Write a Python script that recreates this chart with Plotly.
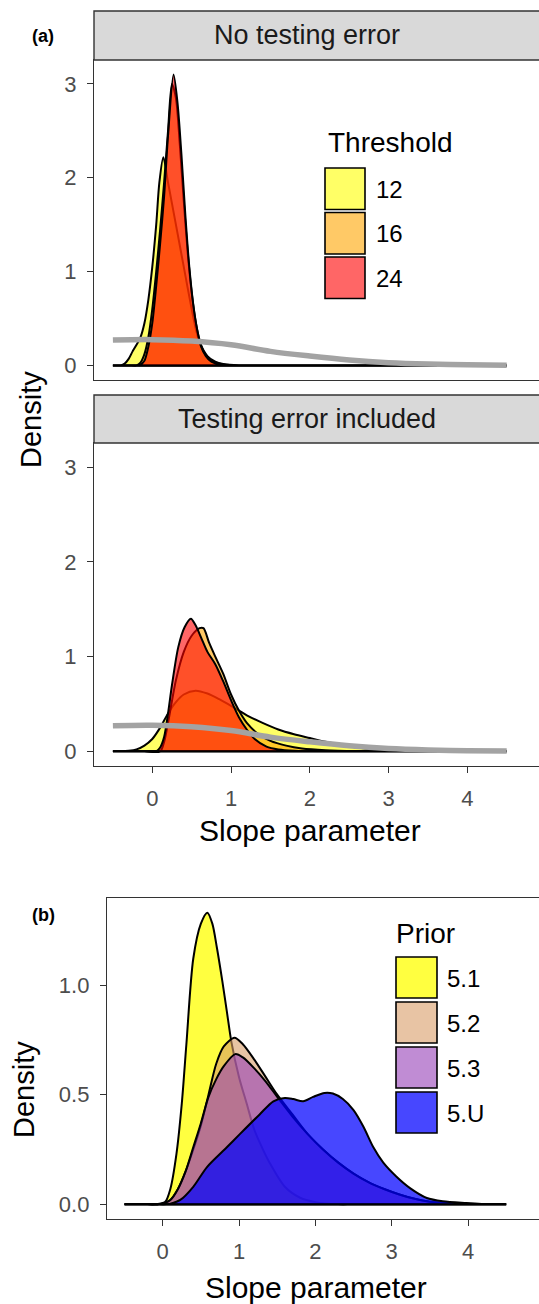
import plotly.graph_objects as go

# ---------------- data ----------------
# Panel (a) top: "No testing error"
a1_12_x = [-0.5, -0.45, -0.4, -0.35, -0.3, -0.25, -0.2, -0.15, -0.1, -0.05, 0.0, 0.05, 0.09, 0.14, 0.2, 0.3, 0.4, 0.5, 0.55, 0.6, 0.7, 0.8, 0.9, 1.1, 1.3, 4.5]
a1_12_y = [0, 0, 0, 0.02, 0.07, 0.15, 0.22, 0.3, 0.45, 0.7, 1.05, 1.5, 1.95, 2.22, 1.95, 1.5, 1.05, 0.6, 0.4, 0.25, 0.1, 0.04, 0.015, 0, 0, 0]

a1_16_x = [-0.5, -0.3, -0.2, -0.15, -0.1, -0.05, 0.0, 0.05, 0.1, 0.15, 0.2, 0.25, 0.3, 0.35, 0.4, 0.45, 0.5, 0.55, 0.6, 0.65, 0.72, 0.8, 0.95, 1.1, 1.3, 4.5]
a1_16_y = [0, 0, 0, 0.03, 0.12, 0.3, 0.6, 1.0, 1.45, 1.95, 2.5, 3.0, 2.85, 2.35, 1.75, 1.2, 0.78, 0.47, 0.27, 0.15, 0.07, 0.03, 0.008, 0, 0, 0]

a1_24_x = [-0.5, -0.3, -0.2, -0.15, -0.1, -0.05, 0.0, 0.05, 0.1, 0.15, 0.2, 0.27, 0.32, 0.37, 0.42, 0.47, 0.52, 0.57, 0.62, 0.68, 0.75, 0.85, 1.0, 1.2, 4.5]
a1_24_y = [0, 0, 0, 0.01, 0.05, 0.2, 0.45, 0.85, 1.3, 1.8, 2.45, 3.1, 2.8, 2.25, 1.6, 1.05, 0.65, 0.38, 0.2, 0.1, 0.04, 0.012, 0, 0, 0]

# Panel (a) bottom: "Testing error included"
a2_12_x = [-0.5, -0.4, -0.3, -0.2, -0.1, 0.0, 0.1, 0.2, 0.3, 0.4, 0.55, 0.7, 0.85, 1.0, 1.1, 1.2, 1.4, 1.6, 1.8, 2.0, 2.2, 2.4, 2.6, 2.8, 3.0, 3.3, 3.7, 3.9, 4.5]
a2_12_y = [0, 0, 0.005, 0.02, 0.06, 0.13, 0.25, 0.4, 0.52, 0.6, 0.64, 0.61, 0.55, 0.48, 0.43, 0.38, 0.3, 0.23, 0.18, 0.14, 0.1, 0.065, 0.04, 0.022, 0.012, 0.004, 0, 0, 0]

a2_16_x = [-0.5, -0.1, 0.1, 0.15, 0.2, 0.3, 0.4, 0.5, 0.6, 0.65, 0.72, 0.8, 0.9, 1.0, 1.1, 1.2, 1.35, 1.5, 1.7, 1.9, 2.2, 2.6, 3.0, 3.2, 4.5]
a2_16_y = [0, 0, 0, 0.1, 0.3, 0.75, 1.05, 1.22, 1.3, 1.3, 1.15, 1.0, 0.82, 0.6, 0.43, 0.3, 0.18, 0.11, 0.06, 0.03, 0.012, 0.003, 0, 0, 0]

a2_24_x = [-0.5, -0.1, 0.05, 0.1, 0.15, 0.2, 0.25, 0.33, 0.41, 0.49, 0.55, 0.62, 0.7, 0.8, 0.9, 1.0, 1.1, 1.2, 1.3, 1.45, 1.6, 1.8, 2.2, 2.4, 4.5]
a2_24_y = [0, 0, 0, 0.04, 0.15, 0.4, 0.7, 1.1, 1.31, 1.4, 1.33, 1.2, 1.05, 0.92, 0.74, 0.54, 0.36, 0.23, 0.13, 0.05, 0.02, 0.006, 0, 0, 0]

# Prior density (grey line), panel (a)
prior_x = [-0.5, 0.0, 0.5, 1.0, 1.5, 2.0, 2.5, 3.0, 3.5, 4.0, 4.5]
prior_y = [0.27, 0.275, 0.26, 0.22, 0.15, 0.1, 0.058, 0.03, 0.015, 0.007, 0.003]

# Panel (b): priors
b_51_x = [-0.5, -0.2, -0.1, 0.03, 0.1, 0.18, 0.25, 0.31, 0.4, 0.5, 0.585, 0.65, 0.71, 0.78, 0.84, 0.9, 1.0, 1.1, 1.2, 1.3, 1.4, 1.6, 1.8, 2.0, 2.3, 2.5, 4.5]
b_51_y = [0, 0, 0, 0.01, 0.07, 0.23, 0.46, 0.73, 1.12, 1.28, 1.33, 1.28, 1.17, 1.02, 0.88, 0.74, 0.58, 0.46, 0.34, 0.26, 0.19, 0.08, 0.03, 0.01, 0, 0, 0]

b_52_x = [-0.5, -0.2, -0.05, 0.1, 0.2, 0.3, 0.4, 0.5, 0.6, 0.7, 0.8, 0.94, 1.05, 1.2, 1.35, 1.5, 1.7, 1.9, 2.1, 2.3, 2.5, 2.7, 2.9, 3.1, 3.3, 3.5, 3.8, 4.2, 4.4, 4.5]
b_52_y = [0, 0, 0, 0.02, 0.07, 0.15, 0.25, 0.36, 0.5, 0.64, 0.72, 0.76, 0.73, 0.66, 0.58, 0.5, 0.41, 0.32, 0.25, 0.19, 0.14, 0.1, 0.07, 0.045, 0.025, 0.012, 0.004, 0, 0, 0]

b_53_x = [-0.5, -0.2, -0.05, 0.1, 0.2, 0.3, 0.4, 0.5, 0.6, 0.7, 0.8, 0.95, 1.05, 1.2, 1.35, 1.5, 1.7, 1.9, 2.1, 2.3, 2.5, 2.7, 2.9, 3.1, 3.3, 3.5, 3.8, 4.2, 4.4, 4.5]
b_53_y = [0, 0, 0, 0.02, 0.07, 0.15, 0.26, 0.37, 0.49, 0.57, 0.63, 0.685, 0.67, 0.62, 0.56, 0.49, 0.4, 0.32, 0.25, 0.19, 0.14, 0.1, 0.07, 0.045, 0.025, 0.012, 0.004, 0, 0, 0]

b_5U_x = [-0.5, -0.1, 0.05, 0.1, 0.23, 0.4, 0.58, 0.84, 1.01, 1.27, 1.45, 1.6, 1.71, 1.84, 1.97, 2.12, 2.23, 2.36, 2.5, 2.63, 2.76, 2.89, 3.06, 3.24, 3.46, 3.67, 3.98, 4.3, 4.45, 4.5]
b_5U_y = [0, 0, 0, 0.003, 0.02, 0.08, 0.17, 0.26, 0.32, 0.41, 0.47, 0.485, 0.48, 0.47, 0.49, 0.508, 0.505, 0.48, 0.43, 0.354, 0.26, 0.19, 0.127, 0.074, 0.029, 0.014, 0.006, 0, 0, 0]

threshold_labels = ["12", "16", "24"]
prior_labels = ["5.1", "5.2", "5.3", "5.U"]

# ---------------- styling ----------------
W, H = 539, 1304
FONT = "Liberation Sans, Arial, sans-serif"
thr_fill = ["rgba(255,255,0,0.6)", "rgba(255,165,0,0.6)", "rgba(255,0,0,0.6)"]
pri_fill = ["rgba(255,255,0,0.75)", "rgba(217,157,103,0.6)", "rgba(150,63,183,0.6)", "rgba(0,0,255,0.72)"]
AX = "#333333"
TICKC = "#4D4D4D"


def X(px):
    return px / W


def Y(py):
    return 1 - py / H


fig = go.Figure()


def add_density(xs, ys, fill, xa, ya):
    xx = list(xs) + [xs[0]]
    yy = list(ys) + [ys[0]]
    fig.add_trace(go.Scatter(
        x=xx, y=yy, mode="lines", fill="toself", fillcolor=fill,
        line=dict(color="black", width=2.0, shape="spline", smoothing=0.8),
        xaxis=xa, yaxis=ya, showlegend=False, hoverinfo="skip"))


for xs, ys, f in [(a1_12_x, a1_12_y, thr_fill[0]), (a1_16_x, a1_16_y, thr_fill[1]), (a1_24_x, a1_24_y, thr_fill[2])]:
    add_density(xs, ys, f, "x", "y")
fig.add_trace(go.Scatter(x=prior_x, y=prior_y, mode="lines",
                         line=dict(color="#A3A3A3", width=5.5, shape="spline"),
                         xaxis="x", yaxis="y", showlegend=False, hoverinfo="skip"))

for xs, ys, f in [(a2_12_x, a2_12_y, thr_fill[0]), (a2_16_x, a2_16_y, thr_fill[1]), (a2_24_x, a2_24_y, thr_fill[2])]:
    add_density(xs, ys, f, "x2", "y2")
fig.add_trace(go.Scatter(x=prior_x, y=prior_y, mode="lines",
                         line=dict(color="#A3A3A3", width=5.5, shape="spline"),
                         xaxis="x2", yaxis="y2", showlegend=False, hoverinfo="skip"))

for xs, ys, f in [(b_51_x, b_51_y, pri_fill[0]), (b_52_x, b_52_y, pri_fill[1]), (b_53_x, b_53_y, pri_fill[2]), (b_5U_x, b_5U_y, pri_fill[3])]:
    add_density(xs, ys, f, "x3", "y3")

tickfont = dict(family=FONT, size=22, color=TICKC)
common_x = dict(showgrid=False, zeroline=False, showline=True, mirror=True, linecolor=AX, linewidth=1.4)
common_y = dict(showgrid=False, zeroline=False, showline=True, mirror=False, linecolor=AX, linewidth=1.4,
                ticks="outside", ticklen=6, tickwidth=1.3, tickcolor=AX, tickfont=tickfont, ticklabelstandoff=6)

fig.update_layout(
    width=W, height=H, margin=dict(l=0, r=0, t=0, b=0), autosize=False,
    paper_bgcolor="white", plot_bgcolor="white", showlegend=False,
    xaxis=dict(domain=[X(94), 1], range=[-0.74, 4.91], showticklabels=False, ticks="", anchor="y", **common_x),
    yaxis=dict(domain=[Y(380), Y(60)], range=[-0.155, 3.255], tickvals=[0, 1, 2, 3], anchor="x", **common_y),
    xaxis2=dict(domain=[X(94), 1], range=[-0.74, 4.91], tickvals=[0, 1, 2, 3, 4], ticks="outside", ticklen=6,
                tickwidth=1.3, tickcolor=AX, tickfont=tickfont, ticklabelstandoff=6, anchor="y2", **common_x),
    yaxis2=dict(domain=[Y(766), Y(443)], range=[-0.155, 3.255], tickvals=[0, 1, 2, 3], anchor="x2", **common_y),
    xaxis3=dict(domain=[X(107), 1], range=[-0.73, 4.93], tickvals=[0, 1, 2, 3, 4], ticks="outside", ticklen=6,
                tickwidth=1.3, tickcolor=AX, tickfont=tickfont, ticklabelstandoff=6, anchor="y3", **common_x),
    yaxis3=dict(domain=[Y(1219), Y(898)], range=[-0.067, 1.397], tickvals=[0, 0.5, 1.0], ticktext=["0.0", "0.5", "1.0"],
                anchor="x3", **common_y),
)

shapes = []
annotations = []

# facet strips
for (top, bot, label) in [(11, 60, "No testing error"), (395, 443, "Testing error included")]:
    shapes.append(dict(type="rect", xref="paper", yref="paper", x0=X(94), x1=1.05, y0=Y(bot), y1=Y(top),
                       fillcolor="#D9D9D9", line=dict(color=AX, width=1.4), layer="above"))
    annotations.append(dict(xref="paper", yref="paper", x=X(307), y=Y((top + bot) / 2), text=label,
                            showarrow=False, font=dict(family=FONT, size=27, color="#1A1A1A"),
                            xanchor="center", yanchor="middle"))

# threshold legend
annotations.append(dict(xref="paper", yref="paper", x=X(326), y=Y(142), text="Threshold", showarrow=False,
                        font=dict(family=FONT, size=28, color="black"), xanchor="left", yanchor="middle"))
for i, lab in enumerate(threshold_labels):
    t = 168 + i * 44.5
    shapes.append(dict(type="rect", xref="paper", yref="paper", x0=X(325), x1=X(365), y0=Y(t + 41.5), y1=Y(t),
                       fillcolor=thr_fill[i], line=dict(color="black", width=1.6), layer="above"))
    annotations.append(dict(xref="paper", yref="paper", x=X(374), y=Y(t + 21), text=lab, showarrow=False,
                            font=dict(family=FONT, size=24, color="black"), xanchor="left", yanchor="middle"))

# prior legend
annotations.append(dict(xref="paper", yref="paper", x=X(394), y=Y(933), text="Prior", showarrow=False,
                        font=dict(family=FONT, size=28, color="black"), xanchor="left", yanchor="middle"))
for i, lab in enumerate(prior_labels):
    t = 957 + i * 45
    shapes.append(dict(type="rect", xref="paper", yref="paper", x0=X(396), x1=X(437), y0=Y(t + 41), y1=Y(t),
                       fillcolor=pri_fill[i], line=dict(color="black", width=1.6), layer="above"))
    annotations.append(dict(xref="paper", yref="paper", x=X(445), y=Y(t + 21), text=lab, showarrow=False,
                            font=dict(family=FONT, size=24, color="black"), xanchor="left", yanchor="middle"))

# axis titles and panel labels
annotations += [
    dict(xref="paper", yref="paper", x=X(310), y=Y(830), text="Slope parameter", showarrow=False,
         font=dict(family=FONT, size=30, color="black"), xanchor="center", yanchor="middle"),
    dict(xref="paper", yref="paper", x=X(316), y=Y(1287), text="Slope parameter", showarrow=False,
         font=dict(family=FONT, size=30, color="black"), xanchor="center", yanchor="middle"),
    dict(xref="paper", yref="paper", x=X(31), y=Y(420), text="Density", showarrow=False, textangle=-90,
         font=dict(family=FONT, size=29, color="black"), xanchor="center", yanchor="middle"),
    dict(xref="paper", yref="paper", x=X(24), y=Y(1090), text="Density", showarrow=False, textangle=-90,
         font=dict(family=FONT, size=29, color="black"), xanchor="center", yanchor="middle"),
    dict(xref="paper", yref="paper", x=X(30), y=Y(36), text="<b>(a)</b>", showarrow=False,
         font=dict(family=FONT, size=18, color="black"), xanchor="left", yanchor="middle"),
    dict(xref="paper", yref="paper", x=X(30), y=Y(915), text="<b>(b)</b>", showarrow=False,
         font=dict(family=FONT, size=18, color="black"), xanchor="left", yanchor="middle"),
]

fig.update_layout(shapes=shapes, annotations=annotations)
fig.write_html("out.html")
